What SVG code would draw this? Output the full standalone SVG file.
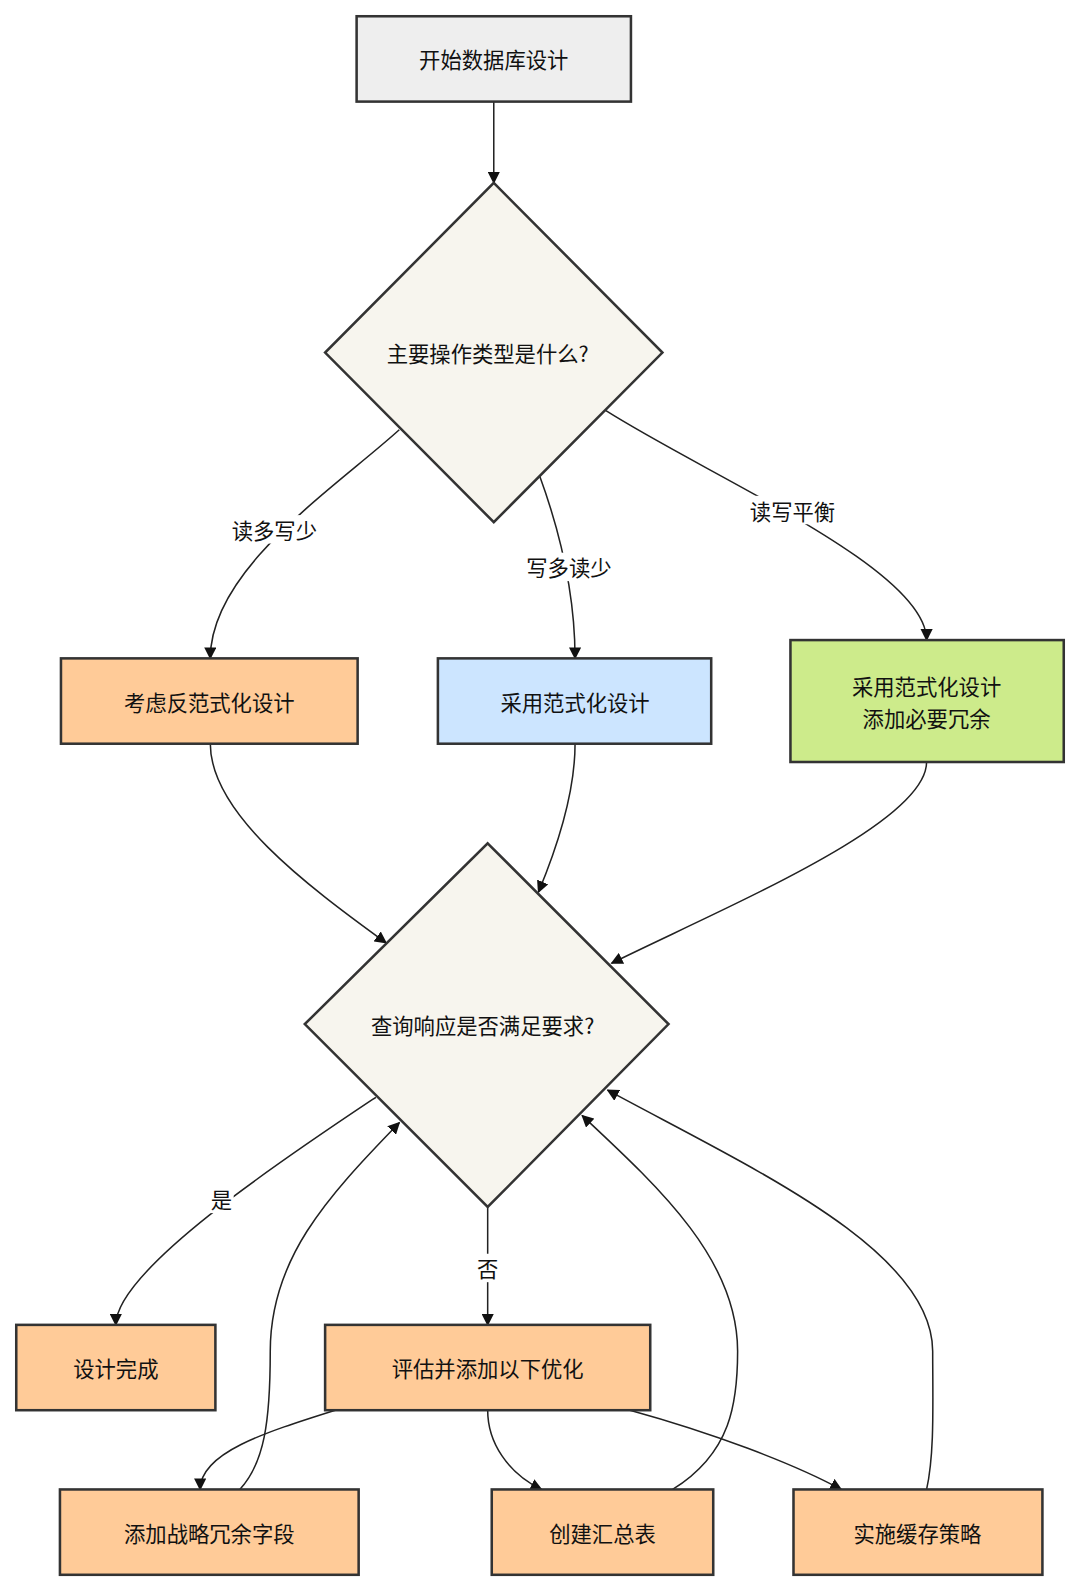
<svg xmlns="http://www.w3.org/2000/svg" width="1080" height="1592" viewBox="0 0 1080 1592">
<style>
.n{stroke:#333;stroke-width:2.5}
.t{font-family:"Noto Sans CJK SC","Liberation Sans",sans-serif;font-size:21px;fill:#111;text-anchor:middle;dominant-baseline:central}
.e{fill:none;stroke:#222;stroke-width:1.5;marker-end:url(#a)}
.lb{fill:#fff}
</style>
<defs><marker id="a" viewBox="0 0 10 10" refX="9" refY="5" markerWidth="8" markerHeight="8" orient="auto"><path d="M0,0L10,5L0,10z" fill="#111"/></marker></defs>
<rect width="1080" height="1592" fill="#fff"/>
<g transform="scale(1.016)">
<g id="edges">
<path class="e" d="M486,100L486,180"/>
<path class="e" d="M393,423C330,480 207,560 207,648"/>
<path class="e" d="M531,468C550,520 566,580 566,648"/>
<path class="e" d="M596,404C700,470 912,560 912,630"/>
<path class="e" d="M207,732C207,800 300,870 380,928"/>
<path class="e" d="M566,732C566,780 550,830 530,878"/>
<path class="e" d="M912,750C912,810 720,890 602,948"/>
<path class="e" d="M370,1080C280,1140 114,1250 114,1304"/>
<path class="e" d="M480,1188L480,1304"/>
<path class="e" d="M330,1388C260,1410 197,1430 197,1466"/>
<path class="e" d="M480,1388C480,1420 500,1450 533,1466"/>
<path class="e" d="M620,1388C700,1410 780,1440 828,1466"/>
<path class="e" d="M236,1466C260,1440 266,1400 266,1330C266,1240 320,1180 393,1105"/>
<path class="e" d="M662,1466C720,1430 726,1380 726,1330C726,1240 650,1170 573,1098"/>
<path class="e" d="M912,1466C920,1430 918,1380 918,1330C918,1230 740,1150 598,1073"/>
<rect class="lb" x="226" y="507" width="90" height="28"/><text class="t" x="270" y="521">读多写少</text>
<rect class="lb" x="515" y="544" width="90" height="28"/><text class="t" x="560" y="558">写多读少</text>
<rect class="lb" x="735" y="488" width="90" height="28"/><text class="t" x="780" y="502">读写平衡</text>
<rect class="lb" x="206" y="1166" width="24" height="28"/><text class="t" x="218" y="1180">是</text>
<rect class="lb" x="468" y="1234" width="24" height="28"/><text class="t" x="480" y="1248">否</text>
</g>
<g id="start"><rect class="n" x="351" y="16" width="270" height="84" fill="#eeeeee"/><text class="t" x="486" y="58">开始数据库设计</text></g>
<g id="d1"><path class="n" d="M486,180L652,347L486,514L320,347Z" fill="#f7f5ee"/><text class="t" x="480" y="347">主要操作类型是什么?</text></g>
<g id="nA"><rect class="n" x="60" y="648" width="292" height="84" fill="#ffcb98"/><text class="t" x="206" y="690">考虑反范式化设计</text></g>
<g id="nB"><rect class="n" x="431" y="648" width="269" height="84" fill="#cce5ff"/><text class="t" x="566" y="690">采用范式化设计</text></g>
<g id="nC"><rect class="n" x="778" y="630" width="269" height="120" fill="#cdeb8b"/><text class="t" x="912" y="675">采用范式化设计</text><text class="t" x="912" y="706">添加必要冗余</text></g>
<g id="d2"><path class="n" d="M480,830L658,1008L480,1188L300,1008Z" fill="#f7f5ee"/><text class="t" x="475" y="1008">查询响应是否满足要求?</text></g>
<g id="done"><rect class="n" x="16" y="1304" width="196" height="84" fill="#ffcb98"/><text class="t" x="114" y="1346">设计完成</text></g>
<g id="eval"><rect class="n" x="320" y="1304" width="320" height="84" fill="#ffcb98"/><text class="t" x="480" y="1346">评估并添加以下优化</text></g>
<g id="o1"><rect class="n" x="59" y="1466" width="294" height="84" fill="#ffcb98"/><text class="t" x="206" y="1508">添加战略冗余字段</text></g>
<g id="o2"><rect class="n" x="484" y="1466" width="218" height="84" fill="#ffcb98"/><text class="t" x="593" y="1508">创建汇总表</text></g>
<g id="o3"><rect class="n" x="781" y="1466" width="245" height="84" fill="#ffcb98"/><text class="t" x="903" y="1508">实施缓存策略</text></g>
</g>
</svg>
